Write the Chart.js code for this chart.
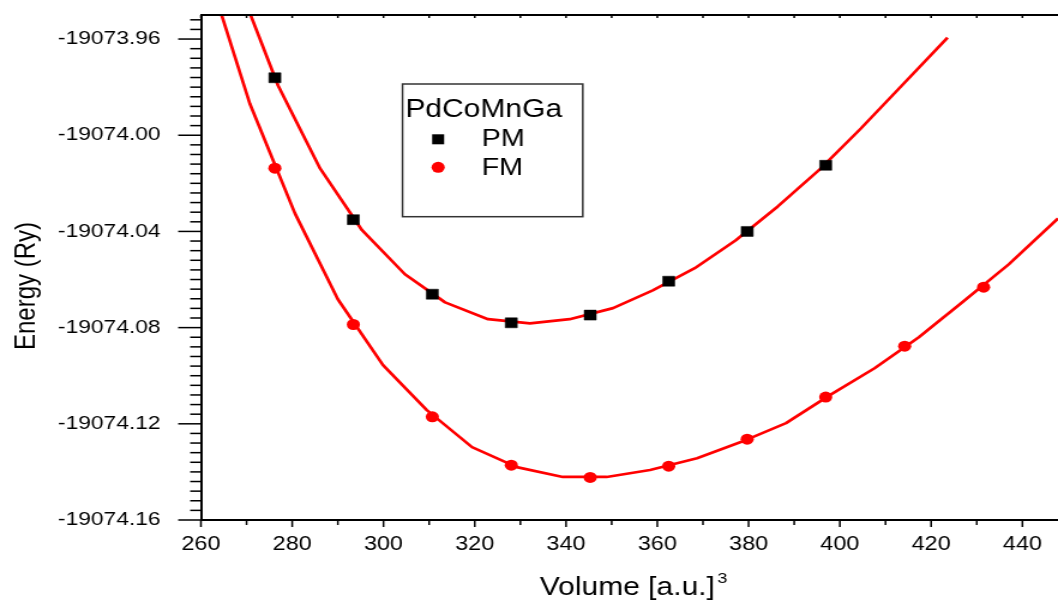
<!DOCTYPE html>
<html>
<head>
<meta charset="utf-8">
<script src="https://cdn.jsdelivr.net/npm/chart.js@4.4.1/dist/chart.umd.min.js"></script>
<style>
html,body{margin:0;padding:0;background:#fff;overflow:hidden}
#c{display:block}
</style>
</head>
<body>
<canvas id="c" width="882" height="601" style="width:1058px;height:601px"></canvas>
<script>
// ---- data ----
const volumes = [276.2, 293.4, 310.7, 328.0, 345.3, 362.5, 379.7, 396.9, 414.2, 431.5];
const pmEnergy = [-19073.9761, -19074.0351, -19074.0661, -19074.0780, -19074.0748, -19074.0607, -19074.0400, -19074.0125];
const fmEnergy = [-19074.0137, -19074.0787, -19074.1171, -19074.1372, -19074.1423, -19074.1376, -19074.1264, -19074.1089, -19074.0877, -19074.0632];

const pmFitVolume = [267.7, 276.9, 286.1, 295.3, 304.7, 313.5, 322.9, 332.1, 340.8, 350.3, 359.0, 368.2, 377.2, 386.4, 395.6, 404.6, 413.8, 423.6];
const pmFitEnergy = [-19073.9345, -19073.9793, -19074.0138, -19074.0395, -19074.0578, -19074.0695, -19074.0765, -19074.0782, -19074.0765, -19074.0719, -19074.0645, -19074.0553, -19074.0437, -19074.0296, -19074.0142, -19073.9972, -19073.9789, -19073.9594];

const fmFitVolume = [261.1, 270.7, 280.6, 290.0, 299.9, 309.5, 319.4, 329.2, 339.3, 348.9, 358.4, 368.7, 378.3, 388.2, 397.8, 407.6, 417.3, 427.1, 437.0, 447.8];
const fmFitEnergy = [-19073.9295, -19073.9868, -19074.0325, -19074.0682, -19074.0956, -19074.1143, -19074.1297, -19074.1380, -19074.1421, -19074.1421, -19074.1392, -19074.1343, -19074.1276, -19074.1197, -19074.1081, -19074.0969, -19074.0840, -19074.0690, -19074.0537, -19074.0346];

const xTickValues = [260, 280, 300, 320, 340, 360, 380, 400, 420, 440];
const yTickValues = [-19074.16, -19074.12, -19074.08, -19074.04, -19074.00, -19073.96];

const legendTitle = 'PdCoMnGa';
const seriesNames = ['PM', 'FM'];
const xTitle = 'Volume [a.u.]';
const xTitleSup = '3';
const yTitle = 'Energy (Ry)';

// ---- layout / style constants ----
const SX = 1.2;               // horizontal stretch of the reference
const X_MIN = 260, X_MAX = 447.8;
const Y_MIN = -19074.16, Y_MAX = -19073.95;
const RED = '#ff0000';
const FONT = '"Liberation Sans", Arial, sans-serif';

const pts = (xs, ys) => ys.map((v, i) => ({x: xs[i], y: v}));
const noPad = s => { s.paddingTop = 0; s.paddingBottom = 0; s.paddingLeft = 0; s.paddingRight = 0; };

const decor = {
  id: 'decor',
  afterDraw(chart) {
    const {ctx, chartArea: a, scales: {x, y}} = chart;
    ctx.save();
    ctx.strokeStyle = '#000';
    ctx.fillStyle = '#000';
    // top frame line
    ctx.lineWidth = 2;
    ctx.beginPath(); ctx.moveTo(a.left, a.top); ctx.lineTo(a.right, a.top); ctx.stroke();
    // x ticks (major 20, minor 10)
    ctx.lineWidth = 1.5;
    for (let k = 0; X_MIN + k * 10 <= X_MAX; k++) {
      const v = X_MIN + k * 10;
      const px = x.getPixelForValue(v);
      const len = (k % 2 === 0) ? 7 : 5;
      ctx.beginPath(); ctx.moveTo(px, a.bottom); ctx.lineTo(px, a.bottom + len); ctx.stroke();
      ctx.beginPath(); ctx.moveTo(px, a.top); ctx.lineTo(px, a.top + 3); ctx.stroke();
    }
    // y ticks (major 0.04, minor 0.004)
    for (let k = 0; k <= 52; k++) {
      const v = Y_MIN + k * 0.004;
      if (v > Y_MAX + 1e-9) break;
      const py = y.getPixelForValue(v);
      const len = (k % 10 === 0) ? 19 : 9;
      ctx.beginPath(); ctx.moveTo(a.left - len, py); ctx.lineTo(a.left, py); ctx.stroke();
    }
    // axis titles
    ctx.font = '25px ' + FONT;
    ctx.textBaseline = 'alphabetic';
    ctx.textAlign = 'left';
    const tw = ctx.measureText(xTitle).width;
    const tx = 450;
    ctx.fillText(xTitle, tx, 595);
    ctx.font = '15px ' + FONT;
    ctx.fillText(xTitleSup, tx + tw + 2, 583);

    ctx.save();
    ctx.translate(29, 286);
    ctx.rotate(-Math.PI / 2);
    ctx.font = '24px ' + FONT;
    ctx.textAlign = 'center';
    ctx.fillText(yTitle, 0, 0);
    ctx.restore();

    // legend box
    const L = 402.7 / SX, R = 583 / SX, T = 84, B = 216.7;
    ctx.fillStyle = '#fff';
    ctx.fillRect(L, T, R - L, B - T);
    ctx.strokeStyle = '#333';
    ctx.lineWidth = 1.5;
    ctx.strokeRect(L, T, R - L, B - T);
    ctx.fillStyle = '#000';
    ctx.font = '25px ' + FONT;
    ctx.textAlign = 'left';
    ctx.fillText(legendTitle, 405.5 / SX, 117);
    ctx.font = '24px ' + FONT;
    // markers
    const mx = 438.3 / SX;
    ctx.fillStyle = '#000';
    ctx.fillRect(mx - 5, 139.3 - 5, 10, 10);
    ctx.fillStyle = RED;
    ctx.beginPath(); ctx.arc(mx, 167.3, 5.5, 0, Math.PI * 2); ctx.fill();
    ctx.fillStyle = '#000';
    ctx.fillText(seriesNames[0], 481.7 / SX, 146);
    ctx.fillText(seriesNames[1], 481.7 / SX, 175);
    ctx.restore();
  }
};

new Chart(document.getElementById('c'), {
  type: 'scatter',
  data: {
    datasets: [
      {label: seriesNames[0], data: pts(volumes, pmEnergy), order: 0,
       pointStyle: 'rect', pointRadius: 7.07, pointBackgroundColor: '#000', pointBorderColor: '#000', pointBorderWidth: 0.5, showLine: false},
      {label: seriesNames[1], data: pts(volumes, fmEnergy), order: 0,
       pointStyle: 'circle', pointRadius: 5.5, pointBackgroundColor: RED, pointBorderColor: RED, pointBorderWidth: 0, showLine: false},
      {label: 'PM fit', data: pts(pmFitVolume, pmFitEnergy), order: 1,
       showLine: true, borderColor: RED, borderWidth: 2.7, pointRadius: 0, tension: 0, borderJoinStyle: 'round'},
      {label: 'FM fit', data: pts(fmFitVolume, fmFitEnergy), order: 1,
       showLine: true, borderColor: RED, borderWidth: 2.7, pointRadius: 0, tension: 0, borderJoinStyle: 'round'}
    ]
  },
  options: {
    responsive: false,
    devicePixelRatio: 1,
    animation: false,
    layout: {autoPadding: false, padding: {top: 15, left: 0, right: 0, bottom: 0}},
    plugins: {legend: {display: false}, tooltip: {enabled: false}},
    scales: {
      x: {
        type: 'linear', position: 'bottom', min: X_MIN, max: X_MAX,
        grid: {display: false, drawTicks: false, tickLength: 0},
        border: {display: true, color: '#000', width: 2},
        ticks: {font: {family: FONT, size: 19.5}, color: '#000', padding: 13, maxRotation: 0, autoSkip: false},
        afterBuildTicks: s => { s.ticks = xTickValues.map(v => ({value: v})); },
        afterFit: s => { s.height = 81; noPad(s); }
      },
      y: {
        type: 'linear', position: 'left', min: Y_MIN, max: Y_MAX,
        grid: {display: false, drawTicks: false, tickLength: 0},
        border: {display: true, color: '#000', width: 2},
        ticks: {font: {family: FONT, size: 19}, color: '#000', padding: 33.6, autoSkip: false,
                callback: v => Number(v).toFixed(2)},
        afterBuildTicks: s => { s.ticks = yTickValues.map(v => ({value: v})); },
        afterFit: s => { s.width = 201 / SX; noPad(s); }
      }
    }
  },
  plugins: [decor]
});
</script>
</body>
</html>
